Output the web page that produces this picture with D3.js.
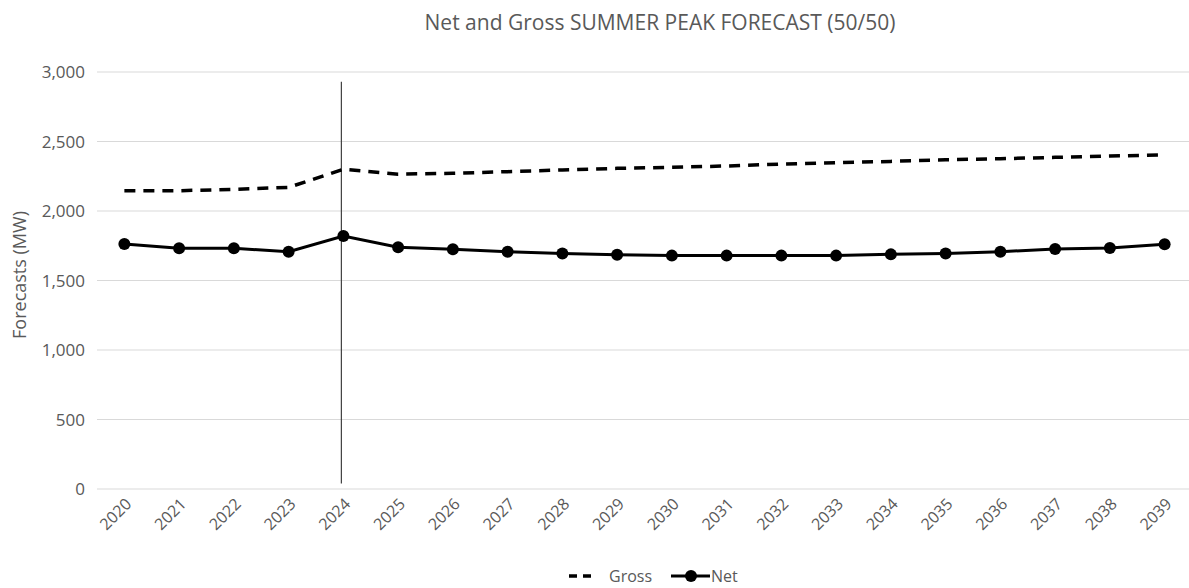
<!DOCTYPE html>
<html>
<head>
<meta charset="utf-8">
<script src="https://cdn.jsdelivr.net/npm/d3@7"></script>
<style>
  body { margin: 0; background: #ffffff; }
  svg { display: block; }
</style>
</head>
<body>
<div id="chart"></div>
<script>
const years = ["2020","2021","2022","2023","2024","2025","2026","2027","2028","2029",
               "2030","2031","2032","2033","2034","2035","2036","2037","2038","2039"];
const grossValues = [2146, 2146, 2156, 2170, 2300, 2265, 2271, 2283, 2295, 2307,
                     2314, 2324, 2338, 2347, 2357, 2369, 2376, 2386, 2396, 2403];
const netValues = [1763, 1732, 1732, 1707, 1820, 1739, 1724, 1707, 1695, 1686,
                   1679, 1679, 1679, 1679, 1688, 1695, 1707, 1727, 1734, 1760];
const yTicks = [0, 500, 1000, 1500, 2000, 2500, 3000];
const markerYear = "2024";
const markerRange = [40, 2930];

const WIDTH = 1189;
const HEIGHT = 588;
const TEXT_COLOR = '#595959';
const GRID_COLOR = '#d9d9d9';
const FONT = "'Open Sans', 'Noto Sans', sans-serif";

const svg = d3.select("#chart")
    .append("svg")
    .attr("width", WIDTH)
    .attr("height", HEIGHT)
    .style("font-family", FONT);

const x = d3.scalePoint()
    .domain(years)
    .range([97, 1192])
    .padding(0.5);

const y = d3.scaleLinear()
    .domain([0, 3000])
    .range([489, 72]);

// title
svg.append("text")
    .attr("x", 660)
    .attr("y", 30)
    .attr("text-anchor", "middle")
    .attr("fill", TEXT_COLOR)
    .style("font-size", "21px")
    .text("Net and Gross SUMMER PEAK FORECAST (50/50)");

// gridlines
svg.append("g")
    .selectAll("line")
    .data(yTicks)
    .join("line")
    .attr("x1", 97)
    .attr("x2", 1189)
    .attr("y1", d => y(d))
    .attr("y2", d => y(d))
    .attr("stroke", GRID_COLOR)
    .attr("stroke-width", 1);

// y tick labels
svg.append("g")
    .selectAll("text")
    .data(yTicks)
    .join("text")
    .attr("x", 85)
    .attr("y", d => y(d))
    .attr("dy", "0.36em")
    .attr("text-anchor", "end")
    .attr("fill", TEXT_COLOR)
    .style("font-size", "17px")
    .text(d => d3.format(",")(d));

// y axis title
svg.append("text")
    .attr("transform", "translate(26,275) rotate(-90)")
    .attr("text-anchor", "middle")
    .attr("fill", TEXT_COLOR)
    .style("font-size", "18px")
    .text("Forecasts (MW)");

// x tick labels, rotated
svg.append("g")
    .selectAll("text")
    .data(years)
    .join("text")
    .attr("transform", d => `translate(${x(d) + 8},${505}) rotate(-45)`)
    .attr("text-anchor", "end")
    .attr("fill", TEXT_COLOR)
    .style("font-size", "16px")
    .text(d => d);

// vertical marker line at 2024
svg.append("line")
    .attr("x1", x(markerYear) - 2)
    .attr("x2", x(markerYear) - 2)
    .attr("y1", y(markerRange[1]))
    .attr("y2", y(markerRange[0]))
    .attr("stroke", "#404040")
    .attr("stroke-width", 1.2);

const line = d3.line()
    .x((d, i) => x(years[i]))
    .y(d => y(d));

// gross (dashed)
svg.append("path")
    .datum(grossValues)
    .attr("d", line)
    .attr("fill", "none")
    .attr("stroke", "#000")
    .attr("stroke-width", 3.5)
    .attr("stroke-dasharray", "11,8");

// net (solid with markers)
svg.append("path")
    .datum(netValues)
    .attr("d", line)
    .attr("fill", "none")
    .attr("stroke", "#000")
    .attr("stroke-width", 3);

svg.append("g")
    .selectAll("circle")
    .data(netValues)
    .join("circle")
    .attr("cx", (d, i) => x(years[i]))
    .attr("cy", d => y(d))
    .attr("r", 6)
    .attr("fill", "#000");

// legend
const legend = svg.append("g").attr("transform", "translate(0,576)");
legend.append("line")
    .attr("x1", 569).attr("x2", 592)
    .attr("y1", 0).attr("y2", 0)
    .attr("stroke", "#000")
    .attr("stroke-width", 3.5)
    .attr("stroke-dasharray", "8,6");
legend.append("text")
    .attr("x", 609).attr("y", 0).attr("dy", "0.36em")
    .attr("fill", TEXT_COLOR)
    .style("font-size", "16px")
    .text("Gross");
legend.append("line")
    .attr("x1", 671).attr("x2", 710)
    .attr("y1", 0).attr("y2", 0)
    .attr("stroke", "#000")
    .attr("stroke-width", 3);
legend.append("circle")
    .attr("cx", 691).attr("cy", 0).attr("r", 6)
    .attr("fill", "#000");
legend.append("text")
    .attr("x", 711).attr("y", 0).attr("dy", "0.36em")
    .attr("fill", TEXT_COLOR)
    .style("font-size", "16px")
    .text("Net");
</script>
</body>
</html>
